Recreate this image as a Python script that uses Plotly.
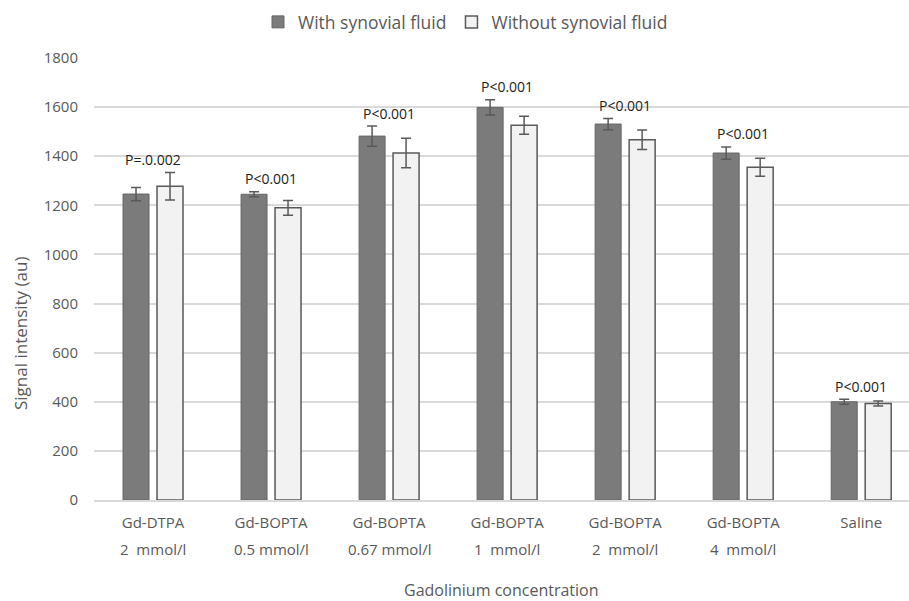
import plotly.graph_objects as go

categories = ["Gd-DTPA", "Gd-BOPTA", "Gd-BOPTA", "Gd-BOPTA", "Gd-BOPTA", "Gd-BOPTA", "Saline"]
concentrations = ["2\u00a0 mmol/l", "0.5 mmol/l", "0.67 mmol/l", "1\u00a0 mmol/l", "2\u00a0 mmol/l", "4\u00a0 mmol/l", ""]
with_fluid = [1246, 1245, 1482, 1599, 1531, 1413, 400]
with_fluid_err = [27, 10, 41, 31, 23, 25, 10]
without_fluid = [1278, 1190, 1413, 1526, 1467, 1355, 393]
without_fluid_err = [56, 30, 60, 37, 40, 37, 10]
p_values = ["P=.0.002", "P<0.001", "P<0.001", "P<0.001", "P<0.001", "P<0.001", "P<0.001"]
y_ticks = [0, 200, 400, 600, 800, 1000, 1200, 1400, 1600, 1800]

FONT = "Open Sans"
TXT = "#595959"
xs = list(range(len(categories)))

W, H = 909, 601
ML, MR, MT, MB = 94, 0, 58, 101
plot_w = W - ML - MR
plot_h = H - MT - MB

fig = go.Figure()
fig.add_trace(go.Bar(
    x=xs, y=with_fluid, name="With synovial fluid",
    marker=dict(color="#7b7b7b", line=dict(color="#666666", width=1)),
    error_y=dict(type="data", array=with_fluid_err, color="#595959", thickness=1.5, width=5),
))
fig.add_trace(go.Bar(
    x=xs, y=without_fluid, name="Without synovial fluid",
    marker=dict(color="#f2f2f2", line=dict(color="#595959", width=1.5)),
    error_y=dict(type="data", array=without_fluid_err, color="#595959", thickness=1.5, width=5),
))

for i, p in enumerate(p_values):
    top = max(with_fluid[i] + with_fluid_err[i], without_fluid[i] + without_fluid_err[i])
    fig.add_annotation(x=i, y=top, text=p, showarrow=False, yanchor="bottom", yshift=1.5,
                       font=dict(family=FONT, size=14, color="#222222"))
    if concentrations[i]:
        fig.add_annotation(x=i, y=0, xref="x", yref="paper", text=concentrations[i], showarrow=False,
                           yanchor="middle", yshift=-49, font=dict(family=FONT, size=15, color=TXT))

fig.add_annotation(x=0.5, xref="paper", y=0, yref="paper", text="Gadolinium concentration",
                   showarrow=False, yanchor="middle", yshift=-90, font=dict(family=FONT, size=16, color=TXT))
fig.add_annotation(x=(20 - ML) / plot_w, xref="paper", y=(500 - 334) / plot_h, yref="paper",
                   text="Signal intensity (au)", textangle=-90, xanchor="center", yanchor="middle",
                   showarrow=False, font=dict(family=FONT, size=17, color=TXT))

fig.update_layout(
    width=W, height=H,
    margin=dict(l=ML, r=MR, t=MT, b=MB),
    paper_bgcolor="white", plot_bgcolor="white",
    barmode="group", bargap=0.424, bargroupgap=0.235,
    font=dict(family=FONT, size=15, color=TXT),
    showlegend=True,
    legend=dict(orientation="h", x=0.5 + 11 / W, xanchor="center", xref="container", y=1 - 22 / H,
                yanchor="middle", yref="container", font=dict(family=FONT, size=17.5, color=TXT),
                itemwidth=30, traceorder="normal"),
    xaxis=dict(tickmode="array", tickvals=xs, ticktext=categories, range=[-0.5, 6.405],
               showgrid=False, showline=True, linecolor="#d9d9d9", linewidth=1.5, ticks="",
               tickfont=dict(family=FONT, size=15, color=TXT), ticklabelstandoff=8, fixedrange=True),
    yaxis=dict(tickmode="array", tickvals=y_ticks, range=[0, 1800], showgrid=True,
               gridcolor="#d9d9d9", gridwidth=1.5, zeroline=False, ticks="",
               tickfont=dict(family=FONT, size=15, color=TXT), ticklabelstandoff=15),
)

fig.write_html("out.html", config={"displayModeBar": False},
               post_script="document.body.style.margin='0';document.body.style.padding='0';")
